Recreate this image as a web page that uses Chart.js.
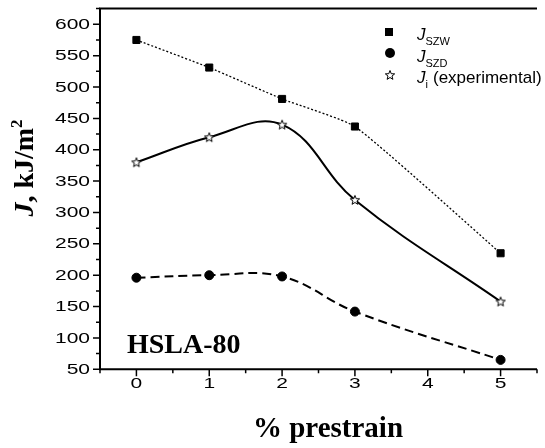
<!DOCTYPE html>
<html>
<head>
<meta charset="utf-8">
<script src="https://cdn.jsdelivr.net/npm/chart.js"></script>
<style>
  body { margin: 0; background: #fff; }
  canvas { display: block; }
</style>
</head>
<body>
<canvas id="chart" width="545" height="448"></canvas>
<script>
// data
const prestrain = [0, 1, 2, 3, 5];
const jSzw = [575, 531, 481, 437, 235];
const jSzd = [196, 200, 198, 142, 65];
const jExp = [380, 420, 440, 320, 158];
const xTickLabels = ['0', '1', '2', '3', '4', '5'];
const yTickLabels = ['50', '100', '150', '200', '250', '300', '350', '400', '450', '500', '550', '600'];

const toPoints = vals => prestrain.map((x, i) => ({ x, y: vals[i] }));

// open five point star for the experimental marker
function makeStar() {
  const c = document.createElement('canvas');
  c.width = 12; c.height = 12;
  const g = c.getContext('2d');
  g.beginPath();
  for (let i = 0; i < 10; i++) {
    const r = i % 2 === 0 ? 4.9 : 2.1;
    const a = -Math.PI / 2 + i * Math.PI / 5;
    const px = 6 + r * Math.cos(a), py = 6.4 + r * Math.sin(a);
    i === 0 ? g.moveTo(px, py) : g.lineTo(px, py);
  }
  g.closePath();
  g.fillStyle = '#fff';
  g.fill();
  g.lineWidth = 1;
  g.strokeStyle = '#000';
  g.stroke();
  return c;
}
const star = makeStar();

// axes frame, ticks, tick labels and titles
const framePlugin = {
  id: 'frame',
  afterDraw(chart) {
    const { ctx, chartArea: a, scales } = chart;
    const xs = scales.x, ys = scales.y;
    ctx.save();
    ctx.strokeStyle = '#000';
    ctx.lineWidth = 2;
    ctx.beginPath();
    ctx.moveTo(a.left, a.top); ctx.lineTo(a.right, a.top);
    ctx.moveTo(a.left, a.top - 1); ctx.lineTo(a.left, a.bottom);
    ctx.moveTo(a.left - 1, a.bottom); ctx.lineTo(a.right, a.bottom);
    ctx.stroke();

    ctx.lineWidth = 1.5;
    ctx.beginPath();
    ys.ticks.forEach(t => {
      const y = ys.getPixelForValue(t.value);
      const len = t.value % 50 === 0 ? 7 : 4;
      ctx.moveTo(a.left, y); ctx.lineTo(a.left - len, y);
    });
    xs.ticks.forEach(t => {
      const x = xs.getPixelForValue(t.value);
      const len = Number.isInteger(t.value) ? 7 : 4;
      ctx.moveTo(x, a.bottom); ctx.lineTo(x, a.bottom + len);
    });
    ctx.stroke();

    ctx.fillStyle = '#000';
    ctx.font = '15px "Liberation Sans", Arial, sans-serif';
    ctx.textAlign = 'right';
    ctx.textBaseline = 'middle';
    yTickLabels.forEach(l => {
      ctx.save();
      ctx.translate(90, ys.getPixelForValue(Number(l)) + 0.5);
      ctx.scale(1.4, 1);
      ctx.fillText(l, 0, 0);
      ctx.restore();
    });
    ctx.textAlign = 'center';
    ctx.textBaseline = 'alphabetic';
    xTickLabels.forEach(l => {
      ctx.save();
      ctx.translate(xs.getPixelForValue(Number(l)), 388);
      ctx.scale(1.4, 1);
      ctx.fillText(l, 0, 0);
      ctx.restore();
    });

    // x title
    ctx.font = 'bold 29px "Liberation Serif", "Times New Roman", serif';
    ctx.fillText('% prestrain', 328, 437);

    // y title: J, kJ/m²
    const serif = '"Liberation Serif", "Times New Roman", serif';
    const parts = [
      { t: 'J', f: 'italic bold 28px ' + serif, dy: 0 },
      { t: ', kJ/m', f: 'bold 28px ' + serif, dy: 0 },
      { t: '2', f: 'bold 17px ' + serif, dy: -11 }
    ];
    let total = 0;
    parts.forEach(p => { ctx.font = p.f; p.w = ctx.measureText(p.t).width; total += p.w; });
    ctx.save();
    ctx.translate(33, 168);
    ctx.rotate(-Math.PI / 2);
    ctx.textAlign = 'left';
    let px = -total / 2;
    parts.forEach(p => { ctx.font = p.f; ctx.fillText(p.t, px, p.dy); px += p.w; });
    ctx.restore();

    // material label
    ctx.textAlign = 'left';
    ctx.font = 'bold 28px ' + serif;
    ctx.fillText('HSLA-80', 127, 353);

    // legend
    ctx.fillRect(385, 28, 8, 8);
    ctx.beginPath();
    ctx.arc(390, 53, 5, 0, Math.PI * 2);
    ctx.fill();
    ctx.drawImage(star, 384, 69);

    const rows = [
      { sub: 'SZW', y: 40, rest: '' },
      { sub: 'SZD', y: 62, rest: '' },
      { sub: 'i', y: 83, rest: '(experimental)' }
    ];
    rows.forEach(r => {
      ctx.font = 'italic 17px "Liberation Sans", Arial, sans-serif';
      ctx.fillText('J', 417, r.y);
      const jw = ctx.measureText('J').width;
      ctx.font = '11px "Liberation Sans", Arial, sans-serif';
      ctx.fillText(r.sub, 417 + jw, r.y + 5);
      if (r.rest) {
        ctx.font = '17px "Liberation Sans", Arial, sans-serif';
        ctx.fillText(r.rest, 433, r.y);
      }
    });
    ctx.restore();
  }
};

const ctx = document.getElementById('chart').getContext('2d');
new Chart(ctx, {
  type: 'line',
  data: {
    datasets: [
      {
        label: 'J_SZW',
        data: toPoints(jSzw),
        borderColor: '#000',
        borderWidth: 1.3,
        borderDash: [2, 2],
        tension: 0.15,
        pointStyle: 'rect',
        pointRadius: 5,
        pointBorderWidth: 1,
        pointBackgroundColor: '#000',
        pointBorderColor: '#000'
      },
      {
        label: 'J_SZD',
        data: toPoints(jSzd),
        borderColor: '#000',
        borderWidth: 2,
        borderDash: [9, 5],
        tension: 0.4,
        pointStyle: 'circle',
        pointRadius: 4.5,
        pointBorderWidth: 1,
        pointBackgroundColor: '#000',
        pointBorderColor: '#000'
      },
      {
        label: 'J_i (experimental)',
        data: toPoints(jExp),
        borderColor: '#000',
        borderWidth: 2,
        tension: 0.4,
        pointStyle: star,
        pointRadius: 6
      }
    ]
  },
  options: {
    responsive: false,
    animation: false,
    layout: { padding: { top: 8.6, right: -4, left: 0, bottom: 0 } },
    plugins: { legend: { display: false }, tooltip: { enabled: false } },
    scales: {
      x: {
        type: 'linear',
        min: -0.5,
        max: 5.5,
        ticks: { stepSize: 0.5, display: false },
        grid: { display: false },
        border: { display: false },
        afterFit: s => { s.height = 78.7; }
      },
      y: {
        min: 50,
        max: 625,
        ticks: { stepSize: 25, display: false },
        grid: { display: false },
        border: { display: false },
        afterFit: s => { s.width = 100; }
      }
    }
  },
  plugins: [framePlugin]
});
</script>
</body>
</html>
